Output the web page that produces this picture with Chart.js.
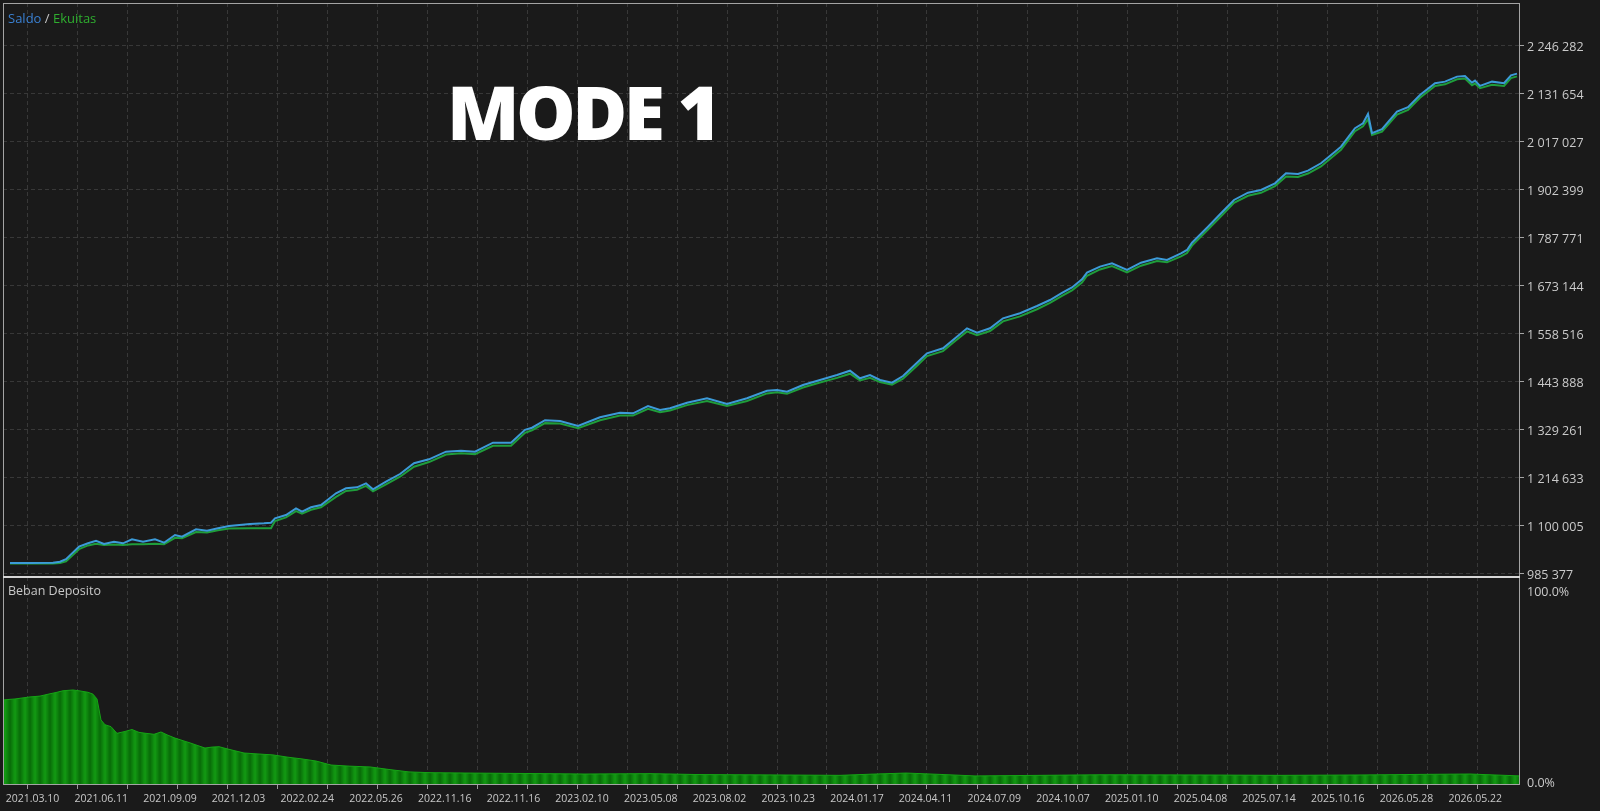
<!DOCTYPE html>
<html>
<head>
<meta charset="utf-8">
<script src="https://cdn.jsdelivr.net/npm/chart.js@4.4.1/dist/chart.umd.min.js"></script>
<style>
  html, body { margin: 0; padding: 0; background: #1a1a1a; }
  #wrap { position: relative; width: 1600px; height: 811px; overflow: hidden; }
  canvas { position: absolute; left: 0; top: 0; }
  .lbl { position: absolute; font-family: "Open Sans", sans-serif; font-size: 13px; color: #c8c8c8; white-space: nowrap; }
  #legend { left: 8px; top: 9px; }
  #loadTitle { left: 8px; top: 582px; font-size: 12.5px; }
  #mode { position: absolute; left: 447px; top: 74px; line-height: 75px; font-family: "Open Sans", sans-serif;
          font-weight: 800; font-size: 75px; color: #ffffff; letter-spacing: -3.5px; white-space: nowrap; }
</style>
</head>
<body>
<div id="wrap">
  <canvas id="chart" width="1600" height="811"></canvas>
  <div class="lbl" id="legend"><span style="color:#3a80d2">Saldo</span> / <span style="color:#2fae2f">Ekuitas</span></div>
  <div class="lbl" id="loadTitle">Beban Deposito</div>
  <div id="mode">MODE 1</div>
</div>
<script>
// date labels along the bottom axis
const dateLabels = ["2021.03.10", "2021.06.11", "2021.09.09", "2021.12.03", "2022.02.24", "2022.05.26",
    "2022.11.16", "2022.11.16", "2023.02.10", "2023.05.08", "2023.08.02", "2023.10.23", "2024.01.17",
    "2024.04.11", "2024.07.09", "2024.10.07", "2025.01.10", "2025.04.08", "2025.07.14", "2025.10.16",
    "2026.05.28", "2026.05.22"];

// right axis labels of the balance pane
const balanceTicks = ["985 377", "1 100 005", "1 214 633", "1 329 261", "1 443 888", "1 558 516",
    "1 673 144", "1 787 771", "1 902 399", "2 017 027", "2 131 654", "2 246 282"];
const loadTicks = [0, 100];

// test step (time index) of each balance / equity sample
const stepX = [7, 27, 50, 57, 63, 69, 76, 85, 93, 101,
    111, 120, 129, 140, 152, 161, 172, 179, 193, 204,
    215, 226, 247, 261, 268, 272, 283, 293, 299, 308,
    318, 333, 343, 354, 363, 370, 383, 397, 411, 426,
    443, 458, 472, 490, 508, 522, 529, 542, 557, 575,
    597, 617, 630, 645, 657, 667, 684, 704, 724, 744,
    764, 774, 784, 800, 817, 834, 847, 857, 867, 877,
    889, 900, 914, 924, 940, 950, 964, 974, 987, 1000,
    1017, 1034, 1047, 1059, 1069, 1079, 1084, 1097, 1109, 1124,
    1138, 1154, 1164, 1178, 1184, 1189, 1205, 1218, 1231, 1245,
    1258, 1272, 1283, 1295, 1305, 1318, 1332, 1338, 1352, 1360,
    1365, 1369, 1379, 1394, 1405, 1417, 1432, 1442, 1454, 1462,
    1469, 1472, 1477, 1489, 1501, 1508, 1514];

const balance = [1010000, 1010000, 1010500, 1013000, 1019000, 1033000, 1049000, 1057000, 1063000, 1055300,
    1060800, 1057000, 1066600, 1060800, 1066600, 1058400, 1076800, 1072800, 1090400, 1087100,
    1093000, 1098300, 1103100, 1104800, 1106200, 1116700, 1124600, 1140600, 1132500, 1143000,
    1148500, 1176400, 1188400, 1190700, 1200300, 1186000, 1204100, 1222500, 1248100, 1257600,
    1275800, 1278200, 1275800, 1297200, 1297200, 1328000, 1333000, 1351000, 1349000, 1337100,
    1357900, 1368900, 1367500, 1384900, 1375400, 1379400, 1392800, 1403300, 1389700, 1403300,
    1421400, 1423100, 1419100, 1435100, 1447000, 1458900, 1469200, 1451000, 1458900, 1447000,
    1440600, 1456500, 1488300, 1510700, 1522700, 1542500, 1570400, 1560000, 1570400, 1594300,
    1606300, 1623700, 1638000, 1655000, 1668000, 1687600, 1703500, 1717800, 1725800, 1709700,
    1727100, 1737600, 1733600, 1749500, 1757500, 1774900, 1813100, 1845100, 1876900, 1894300,
    1900700, 1916700, 1940600, 1939000, 1947000, 1964600, 1992300, 2004200, 2048200, 2060100,
    2082400, 2036300, 2045800, 2087800, 2098300, 2127700, 2155600, 2159500, 2171500, 2173100,
    2157200, 2161900, 2149300, 2159500, 2155600, 2174700, 2178700];

const equity = [1009000, 1009000, 1009000, 1010000, 1014000, 1027000, 1043000, 1052000, 1056000, 1053000,
    1054000, 1053000, 1055000, 1055000, 1056000, 1055000, 1070000, 1069000, 1084000, 1083000,
    1088000, 1092500, 1092800, 1092800, 1093000, 1110000, 1119000, 1134000, 1128000, 1137000,
    1143000, 1168000, 1182000, 1185000, 1194000, 1181000, 1198000, 1216000, 1240000, 1251000,
    1269000, 1272000, 1270000, 1289700, 1290000, 1321000, 1327000, 1344000, 1343000, 1332000,
    1351000, 1362000, 1362000, 1378000, 1370000, 1374000, 1387000, 1397000, 1385000, 1397000,
    1415000, 1418000, 1414000, 1429000, 1441000, 1452000, 1462000, 1446000, 1452000, 1442000,
    1436000, 1450000, 1481000, 1504000, 1516000, 1536000, 1563000, 1554000, 1564000, 1587000,
    1599000, 1616000, 1631000, 1648000, 1661000, 1680000, 1696000, 1711000, 1719000, 1704000,
    1720000, 1731000, 1728000, 1742000, 1750000, 1768000, 1806000, 1838000, 1870000, 1887000,
    1894000, 1910000, 1933000, 1932000, 1940000, 1957000, 1985000, 1997000, 2041000, 2053000,
    2070000, 2032000, 2040000, 2081000, 2092000, 2121000, 2149000, 2153000, 2165000, 2167000,
    2151000, 2155000, 2144000, 2152000, 2149000, 2168000, 2172000];

// deposit load (%) samples
const loadX = [0, 12, 26, 37, 46, 54, 60, 70, 77, 85,
    90, 94, 98, 102, 108, 114, 122, 129, 136, 143,
    151, 158, 165, 172, 187, 202, 209, 216, 227, 241,
    255, 270, 285, 299, 313, 328, 347, 367, 387, 406,
    427, 465, 517, 582, 647, 697, 777, 837, 867, 903,
    937, 972, 1037, 1097, 1197, 1277, 1357, 1417, 1467, 1517];
const load = [43.5, 44, 45, 45.5, 46.6, 47.5, 48.3, 48.7, 48.2, 47.5,
    46.5, 44, 33, 30.5, 29.5, 26, 27, 28, 26.5, 26,
    25.5, 26.7, 25, 23.5, 21, 18.3, 18.8, 19, 17.5, 15.7,
    15.2, 14.7, 13.5, 12.6, 11.5, 9.4, 8.8, 8.4, 7, 5.8,
    5.4, 5.2, 5.0, 4.7, 4.9, 4.4, 4.2, 4.0, 4.6, 5.2,
    4.5, 3.7, 4.0, 4.3, 4.2, 4.0, 4.2, 4.5, 4.7, 3.7];

const xMax = 1517;
const labelStart = 29.5, labelStep = 68.7;   // where the date labels sit on the step axis
const gridStart = 24, gridStep = 50;

function pts(xs, ys) {
    return xs.map((x, i) => ({ x: x, y: ys[i] }));
}

// no extra room for overhanging tick labels
function noPad(s) {
    s.paddingTop = 0;
    s.paddingBottom = 0;
    s.paddingLeft = 0;
    s.paddingRight = 0;
}

const canvas = document.getElementById("chart");
const ctx = canvas.getContext("2d");

// striped green fill like the terminal's load histogram
const stripe = document.createElement("canvas");
stripe.width = 10;
stripe.height = 1;
const sctx = stripe.getContext("2d");
const g = sctx.createLinearGradient(0, 0, 10, 0);
g.addColorStop(0, "#086c08");
g.addColorStop(0.5, "#139a13");
g.addColorStop(1, "#086c08");
sctx.fillStyle = g;
sctx.fillRect(0, 0, 10, 1);
const stripes = ctx.createPattern(stripe, "repeat");

const frame = {
    id: "frame",
    afterDraw(chart) {
        const c = chart.ctx, a = chart.chartArea;
        const sep = chart.scales.y.bottom;
        c.save();
        c.strokeStyle = "#a4a4a4";
        c.lineWidth = 1;
        c.strokeRect(a.left + 0.5, a.top + 0.5, a.right - a.left - 1, a.bottom - a.top - 1);
        c.strokeStyle = "#d6d6d6";
        c.lineWidth = 2;
        c.beginPath();
        c.moveTo(a.left, sep);
        c.lineTo(a.right, sep);
        c.stroke();
        c.restore();
    }
};

const tickFont = { family: "Open Sans", size: 12.5 };

new Chart(ctx, {
    type: "line",
    data: {
        datasets: [
            { label: "Saldo", data: pts(stepX, balance), borderColor: "#3c9bd8", borderWidth: 2,
              pointRadius: 0, tension: 0, xAxisID: "x", yAxisID: "y", order: 0 },
            { label: "Ekuitas", data: pts(stepX, equity), borderColor: "#1f9d3b", borderWidth: 2,
              pointRadius: 0, tension: 0, xAxisID: "x", yAxisID: "y", order: 1 },
            { label: "Beban Deposito", data: pts(loadX, load), borderColor: "#16a316", borderWidth: 1,
              backgroundColor: stripes, fill: "start", pointRadius: 0, tension: 0,
              xAxisID: "x", yAxisID: "y2", order: 2 }
        ]
    },
    options: {
        responsive: false,
        animation: false,
        layout: { padding: { top: 3, left: 3, right: 0, bottom: 0 } },
        plugins: { legend: { display: false }, tooltip: { enabled: false } },
        scales: {
            x: {
                type: "linear", min: 0, max: xMax, position: "bottom", weight: 1,
                afterBuildTicks: s => { s.ticks = dateLabels.map((_, k) => ({ value: labelStart + k * labelStep })); },
                afterFit: s => { s.height = 22; noPad(s); },
                grid: { display: false, drawTicks: false },
                border: { display: false },
                ticks: { autoSkip: false, maxRotation: 0, color: "#c8c8c8", padding: 4,
                         font: { family: "Open Sans", size: 10.5 },
                         callback: (v, i) => dateLabels[i] }
            },
            xg: {
                type: "linear", min: 0, max: xMax, position: "bottom", weight: 0,
                afterBuildTicks: s => {
                    const t = [];
                    for (let v = gridStart; v <= xMax; v += gridStep) t.push({ value: v });
                    s.ticks = t;
                },
                afterFit: s => { s.height = 4; noPad(s); },
                grid: { color: "#383838", tickColor: "#9a9a9a", tickLength: 4 },
                border: { display: false, dash: [4, 3] },
                ticks: { display: false }
            },
            y: {
                type: "linear", position: "right", stack: "panes", stackWeight: 574,
                min: 976540, max: 2347290,
                afterBuildTicks: s => { s.ticks = balanceTicks.map(t => ({ value: Number(t.replace(/ /g, "")) })); },
                afterFit: s => { s.width = 80; noPad(s); },
                grid: { color: "#383838", tickColor: "#a4a4a4", tickLength: 4 },
                border: { display: false, dash: [4, 3] },
                ticks: { autoSkip: false, color: "#cacaca", padding: 3, crossAlign: "near", labelOffset: 2,
                         font: tickFont, callback: (v, i) => balanceTicks[i] }
            },
            y2: {
                type: "linear", position: "right", stack: "panes", stackWeight: 208,
                min: -1.05, max: 107.85,
                afterBuildTicks: s => { s.ticks = loadTicks.map(v => ({ value: v })); },
                afterFit: s => { s.width = 80; noPad(s); },
                grid: { display: false, drawTicks: false },
                border: { display: false },
                ticks: { autoSkip: false, color: "#cacaca", padding: 7, crossAlign: "near",
                         font: tickFont, callback: v => v.toFixed(1) + "%" }
            }
        }
    },
    plugins: [frame]
});
</script>
</body>
</html>
